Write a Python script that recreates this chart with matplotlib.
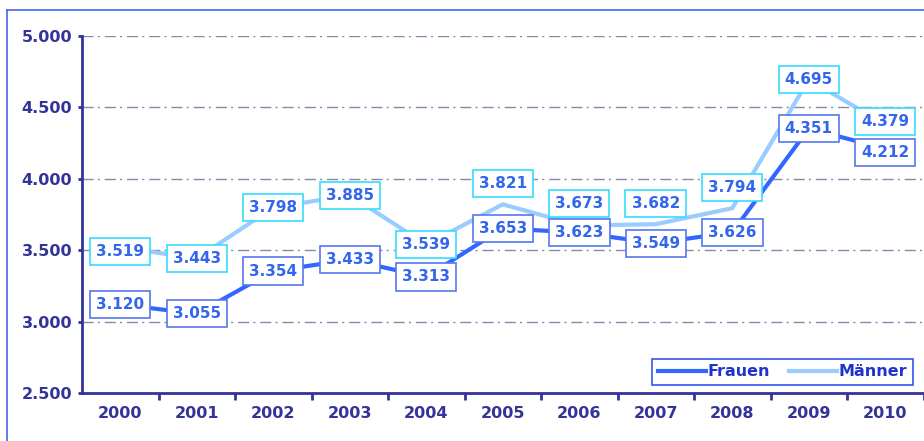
import matplotlib
matplotlib.use('Agg')
import matplotlib.pyplot as plt
from matplotlib.lines import Line2D

# --- Daten ---
jahre = ['2000', '2001', '2002', '2003', '2004', '2005', '2006', '2007', '2008', '2009', '2010']
frauen = [3120, 3055, 3354, 3433, 3313, 3653, 3623, 3549, 3626, 4351, 4212]
maenner = [3519, 3443, 3798, 3885, 3539, 3821, 3673, 3682, 3794, 4695, 4379]
y_ticks = [2500, 3000, 3500, 4000, 4500, 5000]

# Verschiebung der Datenbeschriftungen (Pixel, nach oben positiv)
off_frauen = [0, 0, 0, 0, 0, 0, 0, 0, 0, 0, -4]
off_maenner = [-4, 0, 0, 0, 0, 21, 22, 21, 21, 0, 3]

NAVY = '#333399'
C_FRAUEN = '#3366ff'
C_MAENNER = '#99ccff'
TXT = '#3366ee'


def fmt(v):
    return f'{v:,}'.replace(',', '.')


plt.rcParams['font.family'] = ['DejaVu Sans']

fig = plt.figure(figsize=(9.24, 4.41), dpi=100)
ax = fig.add_axes([82 / 924, 1 - 393 / 441, 841.5 / 924, 357 / 441])

x = list(range(len(jahre)))
ax.plot(x, maenner, color=C_MAENNER, lw=3, solid_capstyle='butt', zorder=3, label='Männer')
ax.plot(x, frauen, color=C_FRAUEN, lw=3, solid_capstyle='butt', zorder=4, label='Frauen')

for xi, v, o in zip(x, maenner, off_maenner):
    ax.annotate(fmt(v), (xi, v), xytext=(0, o * 0.72), textcoords='offset points',
                ha='center', va='center', fontsize=11, fontweight='bold', color=TXT,
                bbox=dict(boxstyle='square,pad=0.4', fc='white', ec='#33ddff', lw=1.2), zorder=5)
for xi, v, o in zip(x, frauen, off_frauen):
    ax.annotate(fmt(v), (xi, v), xytext=(0, o * 0.72), textcoords='offset points',
                ha='center', va='center', fontsize=11, fontweight='bold', color=TXT,
                bbox=dict(boxstyle='square,pad=0.4', fc='white', ec='#5577ee', lw=1.2), zorder=6)

ax.set_xlim(-0.5, len(jahre) - 0.5)
ax.set_ylim(2500, 5000)
ax.set_yticks(y_ticks)
ax.set_yticklabels([fmt(t) for t in y_ticks])
ax.set_xticks(x)
ax.set_xticklabels(jahre)
ax.set_xticks([i + 0.5 for i in x], minor=True)

for t in y_ticks[1:]:
    ax.axhline(t, color='#8888aa', lw=1, dashes=(8, 3, 1.5, 3.5), zorder=1)

for s in ['top', 'right']:
    ax.spines[s].set_visible(False)
for s in ['left', 'bottom']:
    ax.spines[s].set_color(NAVY)
    ax.spines[s].set_linewidth(2)

ax.tick_params(axis='y', length=3, width=2, color=NAVY, labelcolor=NAVY, labelsize=11.5, pad=4)
ax.tick_params(axis='x', which='major', length=0, labelcolor=NAVY, labelsize=11.5, pad=9)
ax.tick_params(axis='x', which='minor', length=5, width=2, color=NAVY)
for lab in ax.get_xticklabels() + ax.get_yticklabels():
    lab.set_fontweight('bold')

handles = [Line2D([], [], color=C_FRAUEN, lw=3), Line2D([], [], color=C_MAENNER, lw=3)]
leg = ax.legend(handles, ['Frauen', 'Männer'], loc='lower right', ncol=2,
                bbox_to_anchor=(0.9875, 0.0224), borderaxespad=0, fancybox=False,
                framealpha=1, edgecolor='#3355ee', handlelength=3, handletextpad=0.1,
                columnspacing=1.2, borderpad=0.35,
                prop={'weight': 'bold', 'size': 11.5})
leg.get_frame().set_linewidth(1.2)
for t in leg.get_texts():
    t.set_color('#2233cc')
leg.set_zorder(10)

# Rahmen des Diagrammbereichs
fig.add_artist(Line2D([7 / 924, 7 / 924], [0, 1 - 10 / 441], color='#4466ee', lw=1.2))
fig.add_artist(Line2D([7 / 924, 1], [1 - 10 / 441, 1 - 10 / 441], color='#4466ee', lw=1.2))

fig.savefig('out.png', dpi=100)
